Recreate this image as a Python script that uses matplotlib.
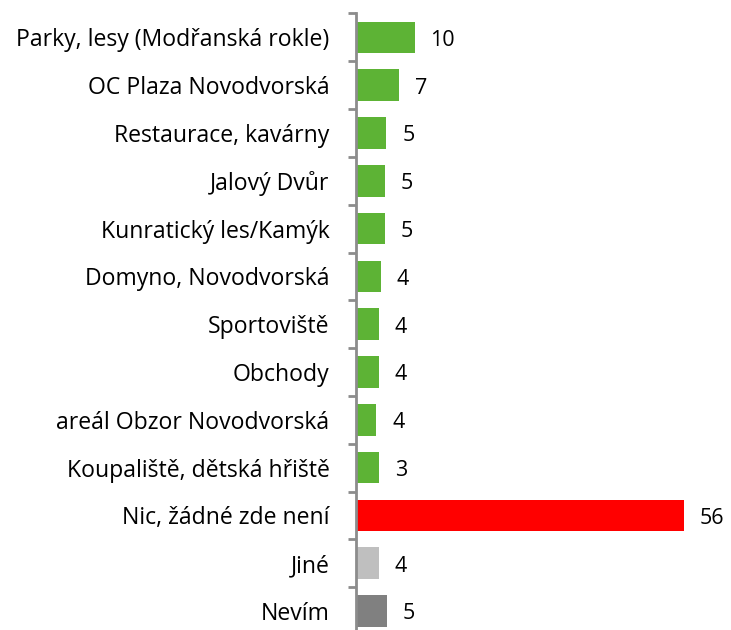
import matplotlib.pyplot as plt
from matplotlib.ticker import FixedLocator

# Categories, top to bottom
categories = ['Parky, lesy (Modřanská rokle)', 'OC Plaza Novodvorská', 'Restaurace, kavárny',
              'Jalový Dvůr', 'Kunratický les/Kamýk', 'Domyno, Novodvorská', 'Sportoviště',
              'Obchody', 'areál Obzor Novodvorská', 'Koupaliště, dětská hřiště',
              'Nic, žádné zde není', 'Jiné', 'Nevím']
# Bar lengths
values = [10.0, 7.3, 5.2, 4.9, 4.9, 4.2, 3.9, 3.9, 3.5, 3.9, 56.0, 3.9, 5.3]
# Printed data labels
value_labels = ['10', '7', '5', '5', '5', '4', '4', '4', '4', '3', '56', '4', '5']
colors = ['#5DB335'] * 10 + ['#FF0000', '#BFBFBF', '#808080']

plt.rcParams['font.family'] = ['Open Sans', 'DejaVu Sans']

W, H = 731, 630
fig = plt.figure(figsize=(W / 100, H / 100), dpi=100)
ax = fig.add_axes([356 / W, -4.9 / H, 363 / W, 621.4 / H])

pos = list(range(len(categories)))
bars = ax.barh(pos, values, height=0.66, color=colors)

ax.set_ylim(len(categories) - 0.5, -0.5)
ax.set_xlim(0, 62)

for bar, lab in zip(bars, value_labels):
    ax.annotate(lab, (bar.get_width(), bar.get_y() + bar.get_height() / 2 + 0.06),
                xytext=(11.5, 0), textcoords='offset points',
                ha='left', va='center', fontsize=15.5, color='#000000')

# major ticks at category boundaries, labels on minor ticks at centres
ax.yaxis.set_major_locator(FixedLocator([p - 0.5 for p in pos] + [len(pos) - 0.5]))
ax.yaxis.set_minor_locator(FixedLocator(pos))
ax.set_yticklabels([], minor=False)
ax.set_yticklabels(categories, minor=True, fontsize=16.6)
ax.tick_params(axis='y', which='major', length=6, width=2, color='#8C8C8C', direction='out')
ax.tick_params(axis='y', which='minor', length=0, pad=19)
ax.set_xticks([])

for s in ['top', 'right', 'bottom']:
    ax.spines[s].set_visible(False)
ax.spines['left'].set_color('#8C8C8C')
ax.spines['left'].set_linewidth(2)

fig.savefig('out.png', dpi=100)
